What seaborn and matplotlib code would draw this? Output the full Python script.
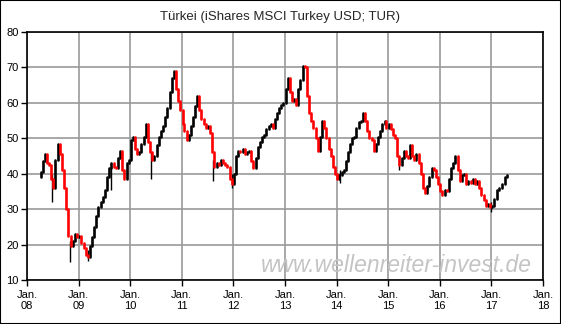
import pandas as pd
import matplotlib.pyplot as plt
from matplotlib.patches import Rectangle
import seaborn as sns

# semi-monthly closing prices of TUR, Apr 2008 .. Apr 2017
closes_2008 = [40.5, 43.5, 45.5, 43.0, 42.5, 38.5, 36.0, 44.0, 48.5, 45.5,
               41.0, 36.0, 30.0, 22.5, 19.5, 21.0, 23.0, 22.0]
closes_2009 = [22.5, 20.5, 19.0, 17.0, 16.5, 19.5, 22.0, 25.0, 28.0, 30.5,
               32.0, 33.5, 35.5, 39.0, 41.5, 43.0, 42.0, 41.5, 44.5, 46.5,
               41.0, 38.5, 43.0, 44.0]
closes_2010 = [49.5, 50.5, 47.0, 45.5, 46.0, 48.5, 50.5, 54.0, 49.0, 46.0,
               44.0, 45.0, 48.0, 50.5, 52.0, 53.5, 56.0, 58.5, 63.0, 67.0,
               69.0, 64.0, 60.5, 58.0]
closes_2011 = [54.0, 52.0, 49.5, 51.0, 53.5, 56.0, 59.0, 62.0, 58.0, 55.5,
               54.0, 53.0, 53.5, 51.5, 46.0, 42.0, 43.0, 42.5, 44.0, 43.0,
               42.5, 42.0, 38.5, 37.0]
closes_2012 = [40.0, 45.0, 46.5, 46.0, 47.0, 45.5, 46.0, 46.5, 43.5, 41.5,
               44.5, 47.5, 49.0, 50.5, 51.0, 52.5, 53.5, 54.0, 53.0, 55.5,
               57.0, 58.5, 59.5, 60.0]
closes_2013 = [64.0, 67.0, 63.0, 60.5, 61.0, 59.5, 64.0, 66.5, 70.5, 70.0,
               62.0, 57.0, 55.0, 53.0, 50.0, 46.5, 50.5, 55.0, 53.0, 50.0,
               47.0, 45.0, 42.0, 40.0]
closes_2014 = [38.5, 39.5, 40.5, 41.0, 43.5, 46.0, 48.5, 50.0, 50.5, 53.0,
               54.5, 55.0, 57.0, 55.0, 52.0, 50.0, 49.5, 46.5, 48.5, 50.5,
               52.0, 54.0, 55.0, 53.0]
closes_2015 = [54.0, 52.5, 51.0, 50.0, 45.0, 42.5, 44.5, 46.5, 45.0, 44.5,
               48.0, 45.0, 44.0, 45.5, 43.0, 40.0, 36.0, 34.5, 36.5, 39.0,
               41.5, 41.0, 39.0, 37.0]
closes_2016 = [35.0, 34.0, 35.5, 35.0, 38.5, 41.5, 43.0, 45.0, 41.0, 38.0,
               39.5, 40.0, 37.0, 38.0, 37.5, 38.5, 37.0, 38.0, 36.0, 34.0,
               32.5, 31.0, 31.5, 30.5]
closes_2017 = [31.0, 33.0, 35.5, 36.0, 36.0, 37.0, 39.0, 39.5]
first_open = 39.0

# the longer wicks that stick out of the price band
wick_dates = ["2008-06-25", "2008-11-01", "2009-03-05", "2009-08-20",
              "2010-05-25", "2011-08-10", "2011-12-20", "2014-01-25",
              "2015-03-20", "2016-12-28"]
wick_lows = [32.0, 15.0, 15.5, 35.5, 38.6, 38.0, 36.0, 37.5, 41.0, 29.3]
wick_highs = [40.0, 21.0, 18.5, 42.0, 46.0, 44.0, 40.0, 41.0, 45.0, 32.0]

years = list(range(2008, 2019))
tick_labels = ["Jan.\n%02d" % (y % 100) for y in years]

closes = (closes_2008 + closes_2009 + closes_2010 + closes_2011 + closes_2012
          + closes_2013 + closes_2014 + closes_2015 + closes_2016 + closes_2017)

# semi-monthly dates starting April 2008
months = pd.date_range("2008-04-01", periods=(len(closes) + 1) // 2, freq="MS")
dates = []
for m in months:
    dates.append(m + pd.Timedelta(days=5))
    dates.append(m + pd.Timedelta(days=19))
dates = dates[:len(closes)]

opens = [first_open] + closes[:-1]

rows = []
for i, (d, o, c) in enumerate(zip(dates, opens, closes)):
    direction = "down" if c < o else "up"
    rows.append({"bar": i, "date": d, "price": o, "dir": direction})
    rows.append({"bar": i, "date": d, "price": c, "dir": direction})
df = pd.DataFrame(rows)

wicks = pd.DataFrame({"date": pd.to_datetime(wick_dates), "low": wick_lows,
                      "high": wick_highs})

sns.set_style("white")
plt.rcParams["font.family"] = ["Liberation Sans", "DejaVu Sans"]

fig = plt.figure(figsize=(5.61, 3.24), dpi=100)
ax = fig.add_axes([27 / 561, 1 - 280 / 324, 516 / 561, 248 / 324])

ax.grid(True, color="#999999", linewidth=1.2)
ax.set_axisbelow(True)

ax.text(pd.Timestamp("2017-10-15"), 14.0, "www.wellenreiter-invest.de",
        fontsize=16.5, style="italic", color="#c4c4c4", ha="right", va="center",
        zorder=1.5)

ax.vlines(wicks["date"], wicks["low"], wicks["high"], color="black",
          linewidth=1.0, zorder=2.5)

sns.lineplot(data=df, x="date", y="price", units="bar", hue="dir",
             estimator=None, palette={"up": "black", "down": "red"},
             linewidth=1.9, legend=False, ax=ax, zorder=3)

ax.set_xlim(pd.Timestamp("2008-01-01"), pd.Timestamp("2018-01-01"))
ax.set_ylim(10, 80)
ax.set_xticks([pd.Timestamp("%d-01-01" % y) for y in years])
ax.set_xticklabels(tick_labels)
ax.set_yticks(range(10, 81, 10))
ax.set_xlabel("")
ax.set_ylabel("")
ax.tick_params(axis="both", direction="out", length=4, width=1, color="black",
               labelsize=8, labelcolor="black", pad=2, bottom=True, left=True)
ax.tick_params(axis="x", pad=3)
for s in ax.spines.values():
    s.set_color("black")
    s.set_linewidth(1.2)

fig.text(0.5, 1 - 17 / 324, "Türkei (iShares MSCI Turkey USD; TUR)",
         ha="center", va="center", fontsize=9.5)

fig.add_artist(Rectangle((0, 0), 1, 1, transform=fig.transFigure, fill=False,
                         edgecolor="black", linewidth=1.5))

fig.savefig("out.png", dpi=100, facecolor="white")
